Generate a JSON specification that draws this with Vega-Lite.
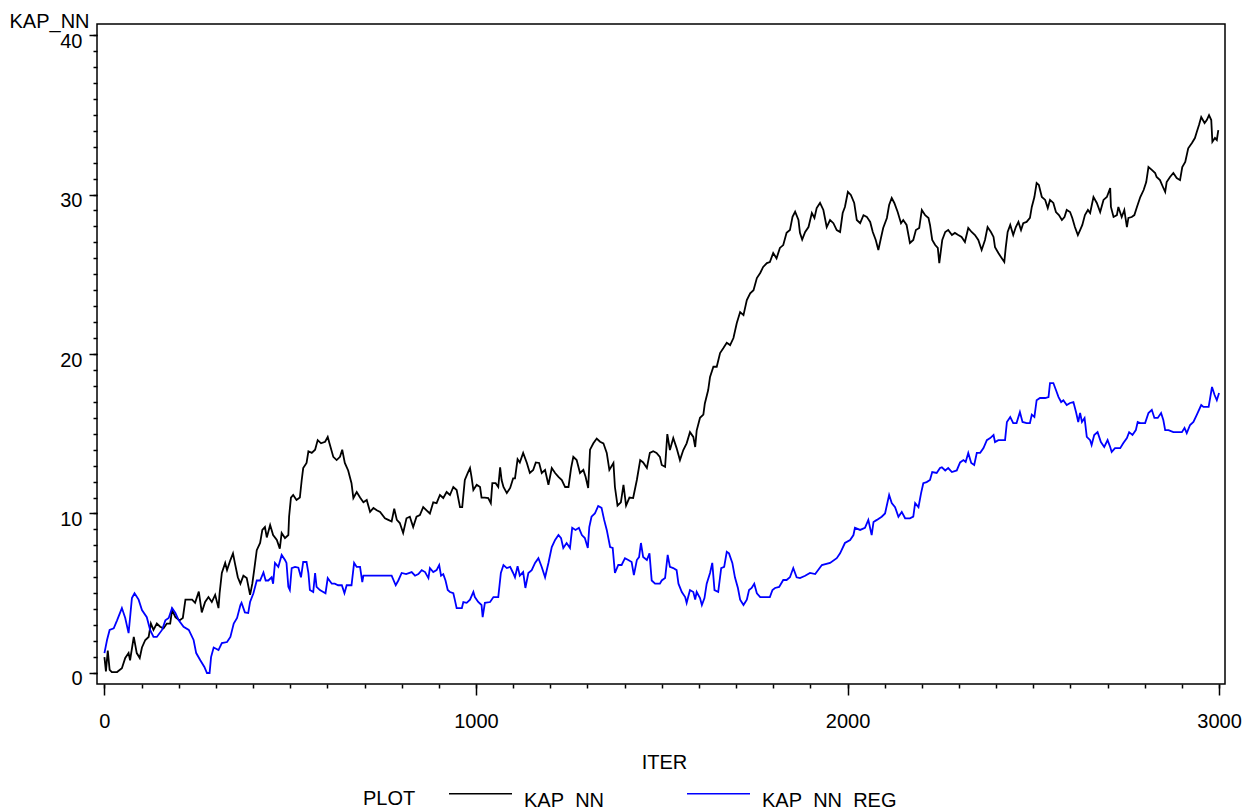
{
"$schema":"https://vega.github.io/schema/vega-lite/v6.json",
"width":1128,"height":660,
"autosize":{"type":"none"},
"padding":{"left":97,"top":24,"right":34,"bottom":126},
"background":"#ffffff",
"datasets":{
"kap_nn":[{"ITER":0,"KAP_NN":1.0},{"ITER":4,"KAP_NN":0.1},{"ITER":9,"KAP_NN":1.4},{"ITER":14,"KAP_NN":0.2},{"ITER":20,"KAP_NN":0.05},{"ITER":34,"KAP_NN":0.06},{"ITER":47,"KAP_NN":0.3},{"ITER":56,"KAP_NN":0.94},{"ITER":65,"KAP_NN":1.25},{"ITER":69,"KAP_NN":0.8},{"ITER":79,"KAP_NN":2.26},{"ITER":87,"KAP_NN":1.25},{"ITER":95,"KAP_NN":0.94},{"ITER":101,"KAP_NN":1.6},{"ITER":110,"KAP_NN":2.07},{"ITER":119,"KAP_NN":2.26},{"ITER":125,"KAP_NN":3.1},{"ITER":132,"KAP_NN":2.7},{"ITER":141,"KAP_NN":3.1},{"ITER":150,"KAP_NN":2.9},{"ITER":159,"KAP_NN":2.8},{"ITER":168,"KAP_NN":3.1},{"ITER":177,"KAP_NN":3.1},{"ITER":182,"KAP_NN":3.95},{"ITER":191,"KAP_NN":3.5},{"ITER":202,"KAP_NN":3.3},{"ITER":211,"KAP_NN":3.45},{"ITER":218,"KAP_NN":4.6},{"ITER":227,"KAP_NN":4.6},{"ITER":236,"KAP_NN":4.6},{"ITER":244,"KAP_NN":4.4},{"ITER":254,"KAP_NN":5.1},{"ITER":262,"KAP_NN":3.8},{"ITER":271,"KAP_NN":4.45},{"ITER":280,"KAP_NN":4.76},{"ITER":289,"KAP_NN":4.45},{"ITER":298,"KAP_NN":4.9},{"ITER":307,"KAP_NN":4.07},{"ITER":310,"KAP_NN":5.0},{"ITER":316,"KAP_NN":6.27},{"ITER":325,"KAP_NN":6.9},{"ITER":330,"KAP_NN":6.45},{"ITER":339,"KAP_NN":7.08},{"ITER":346,"KAP_NN":7.5},{"ITER":351,"KAP_NN":6.9},{"ITER":359,"KAP_NN":6.0},{"ITER":366,"KAP_NN":5.6},{"ITER":374,"KAP_NN":6.1},{"ITER":383,"KAP_NN":5.95},{"ITER":392,"KAP_NN":4.9},{"ITER":398,"KAP_NN":5.6},{"ITER":403,"KAP_NN":6.45},{"ITER":410,"KAP_NN":7.7},{"ITER":419,"KAP_NN":8.15},{"ITER":425,"KAP_NN":8.97},{"ITER":432,"KAP_NN":9.15},{"ITER":437,"KAP_NN":8.5},{"ITER":446,"KAP_NN":9.28},{"ITER":454,"KAP_NN":8.65},{"ITER":464,"KAP_NN":8.34},{"ITER":472,"KAP_NN":7.8},{"ITER":477,"KAP_NN":8.78},{"ITER":486,"KAP_NN":8.46},{"ITER":495,"KAP_NN":8.65},{"ITER":497,"KAP_NN":9.8},{"ITER":502,"KAP_NN":11.0},{"ITER":508,"KAP_NN":11.16},{"ITER":517,"KAP_NN":10.85},{"ITER":526,"KAP_NN":11.0},{"ITER":531,"KAP_NN":12.1},{"ITER":535,"KAP_NN":12.85},{"ITER":544,"KAP_NN":13.17},{"ITER":549,"KAP_NN":13.9},{"ITER":558,"KAP_NN":13.8},{"ITER":567,"KAP_NN":14.0},{"ITER":574,"KAP_NN":14.6},{"ITER":583,"KAP_NN":14.4},{"ITER":594,"KAP_NN":14.5},{"ITER":601,"KAP_NN":14.8},{"ITER":607,"KAP_NN":14.3},{"ITER":616,"KAP_NN":13.55},{"ITER":625,"KAP_NN":13.35},{"ITER":634,"KAP_NN":13.55},{"ITER":640,"KAP_NN":14.0},{"ITER":647,"KAP_NN":13.17},{"ITER":656,"KAP_NN":12.7},{"ITER":665,"KAP_NN":11.9},{"ITER":670,"KAP_NN":10.97},{"ITER":679,"KAP_NN":11.35},{"ITER":688,"KAP_NN":11.0},{"ITER":697,"KAP_NN":10.7},{"ITER":706,"KAP_NN":10.85},{"ITER":715,"KAP_NN":10.1},{"ITER":724,"KAP_NN":10.35},{"ITER":733,"KAP_NN":10.2},{"ITER":742,"KAP_NN":10.1},{"ITER":755,"KAP_NN":9.7},{"ITER":764,"KAP_NN":9.6},{"ITER":773,"KAP_NN":9.5},{"ITER":780,"KAP_NN":10.3},{"ITER":787,"KAP_NN":9.6},{"ITER":795,"KAP_NN":9.4},{"ITER":804,"KAP_NN":8.78},{"ITER":813,"KAP_NN":9.7},{"ITER":822,"KAP_NN":9.8},{"ITER":831,"KAP_NN":9.15},{"ITER":840,"KAP_NN":9.8},{"ITER":849,"KAP_NN":9.9},{"ITER":858,"KAP_NN":10.4},{"ITER":867,"KAP_NN":10.2},{"ITER":876,"KAP_NN":10.0},{"ITER":885,"KAP_NN":10.7},{"ITER":894,"KAP_NN":10.65},{"ITER":903,"KAP_NN":11.16},{"ITER":912,"KAP_NN":10.97},{"ITER":921,"KAP_NN":11.35},{"ITER":930,"KAP_NN":11.16},{"ITER":939,"KAP_NN":11.66},{"ITER":948,"KAP_NN":11.47},{"ITER":957,"KAP_NN":10.4},{"ITER":963,"KAP_NN":10.4},{"ITER":970,"KAP_NN":12.1},{"ITER":978,"KAP_NN":12.54},{"ITER":984,"KAP_NN":12.85},{"ITER":988,"KAP_NN":12.3},{"ITER":993,"KAP_NN":11.47},{"ITER":1002,"KAP_NN":11.8},{"ITER":1011,"KAP_NN":11.66},{"ITER":1015,"KAP_NN":11.0},{"ITER":1024,"KAP_NN":11.0},{"ITER":1033,"KAP_NN":10.97},{"ITER":1040,"KAP_NN":10.65},{"ITER":1044,"KAP_NN":11.9},{"ITER":1053,"KAP_NN":11.9},{"ITER":1060,"KAP_NN":11.66},{"ITER":1065,"KAP_NN":12.9},{"ITER":1069,"KAP_NN":12.1},{"ITER":1074,"KAP_NN":11.66},{"ITER":1083,"KAP_NN":11.28},{"ITER":1092,"KAP_NN":11.6},{"ITER":1100,"KAP_NN":12.2},{"ITER":1105,"KAP_NN":12.2},{"ITER":1112,"KAP_NN":13.4},{"ITER":1118,"KAP_NN":13.2},{"ITER":1127,"KAP_NN":13.8},{"ITER":1137,"KAP_NN":13.17},{"ITER":1145,"KAP_NN":12.54},{"ITER":1154,"KAP_NN":12.73},{"ITER":1161,"KAP_NN":13.2},{"ITER":1170,"KAP_NN":13.17},{"ITER":1177,"KAP_NN":12.54},{"ITER":1186,"KAP_NN":12.73},{"ITER":1195,"KAP_NN":11.8},{"ITER":1204,"KAP_NN":12.85},{"ITER":1213,"KAP_NN":12.54},{"ITER":1222,"KAP_NN":12.3},{"ITER":1231,"KAP_NN":12.1},{"ITER":1240,"KAP_NN":11.66},{"ITER":1249,"KAP_NN":11.66},{"ITER":1256,"KAP_NN":12.85},{"ITER":1262,"KAP_NN":13.55},{"ITER":1271,"KAP_NN":13.35},{"ITER":1280,"KAP_NN":12.54},{"ITER":1289,"KAP_NN":12.73},{"ITER":1295,"KAP_NN":12.3},{"ITER":1302,"KAP_NN":11.6},{"ITER":1307,"KAP_NN":14.0},{"ITER":1316,"KAP_NN":14.4},{"ITER":1325,"KAP_NN":14.7},{"ITER":1334,"KAP_NN":14.5},{"ITER":1343,"KAP_NN":14.4},{"ITER":1352,"KAP_NN":13.8},{"ITER":1359,"KAP_NN":12.73},{"ITER":1370,"KAP_NN":13.17},{"ITER":1374,"KAP_NN":11.66},{"ITER":1381,"KAP_NN":10.5},{"ITER":1390,"KAP_NN":10.7},{"ITER":1397,"KAP_NN":11.8},{"ITER":1404,"KAP_NN":10.5},{"ITER":1413,"KAP_NN":11.0},{"ITER":1423,"KAP_NN":10.97},{"ITER":1433,"KAP_NN":12.1},{"ITER":1442,"KAP_NN":13.35},{"ITER":1450,"KAP_NN":13.2},{"ITER":1460,"KAP_NN":12.85},{"ITER":1468,"KAP_NN":13.8},{"ITER":1477,"KAP_NN":13.9},{"ITER":1486,"KAP_NN":13.8},{"ITER":1495,"KAP_NN":13.55},{"ITER":1500,"KAP_NN":13.04},{"ITER":1509,"KAP_NN":12.93},{"ITER":1515,"KAP_NN":14.98},{"ITER":1522,"KAP_NN":13.98},{"ITER":1531,"KAP_NN":14.73},{"ITER":1540,"KAP_NN":14.1},{"ITER":1549,"KAP_NN":13.35},{"ITER":1558,"KAP_NN":13.98},{"ITER":1567,"KAP_NN":14.4},{"ITER":1576,"KAP_NN":15.1},{"ITER":1585,"KAP_NN":14.8},{"ITER":1590,"KAP_NN":14.17},{"ITER":1594,"KAP_NN":15.2},{"ITER":1603,"KAP_NN":16.0},{"ITER":1612,"KAP_NN":16.2},{"ITER":1616,"KAP_NN":16.9},{"ITER":1625,"KAP_NN":17.74},{"ITER":1630,"KAP_NN":18.56},{"ITER":1639,"KAP_NN":19.2},{"ITER":1648,"KAP_NN":19.2},{"ITER":1657,"KAP_NN":20.06},{"ITER":1666,"KAP_NN":20.37},{"ITER":1675,"KAP_NN":20.7},{"ITER":1684,"KAP_NN":20.56},{"ITER":1693,"KAP_NN":21.0},{"ITER":1702,"KAP_NN":21.94},{"ITER":1711,"KAP_NN":22.63},{"ITER":1720,"KAP_NN":22.44},{"ITER":1729,"KAP_NN":23.38},{"ITER":1738,"KAP_NN":23.8},{"ITER":1747,"KAP_NN":24.0},{"ITER":1756,"KAP_NN":24.76},{"ITER":1765,"KAP_NN":25.08},{"ITER":1773,"KAP_NN":25.46},{"ITER":1783,"KAP_NN":25.7},{"ITER":1791,"KAP_NN":25.77},{"ITER":1800,"KAP_NN":26.33},{"ITER":1809,"KAP_NN":26.0},{"ITER":1818,"KAP_NN":26.65},{"ITER":1827,"KAP_NN":26.83},{"ITER":1836,"KAP_NN":27.6},{"ITER":1845,"KAP_NN":27.77},{"ITER":1852,"KAP_NN":28.6},{"ITER":1859,"KAP_NN":28.92},{"ITER":1868,"KAP_NN":28.4},{"ITER":1872,"KAP_NN":27.6},{"ITER":1878,"KAP_NN":27.17},{"ITER":1886,"KAP_NN":27.65},{"ITER":1895,"KAP_NN":27.96},{"ITER":1904,"KAP_NN":28.84},{"ITER":1911,"KAP_NN":28.53},{"ITER":1917,"KAP_NN":29.15},{"ITER":1926,"KAP_NN":29.47},{"ITER":1935,"KAP_NN":29.03},{"ITER":1944,"KAP_NN":27.96},{"ITER":1953,"KAP_NN":28.4},{"ITER":1962,"KAP_NN":28.2},{"ITER":1971,"KAP_NN":27.77},{"ITER":1980,"KAP_NN":27.65},{"ITER":1987,"KAP_NN":28.84},{"ITER":1993,"KAP_NN":29.22},{"ITER":2001,"KAP_NN":30.16},{"ITER":2009,"KAP_NN":29.97},{"ITER":2018,"KAP_NN":29.47},{"ITER":2025,"KAP_NN":28.4},{"ITER":2034,"KAP_NN":28.2},{"ITER":2043,"KAP_NN":28.7},{"ITER":2052,"KAP_NN":28.6},{"ITER":2061,"KAP_NN":28.28},{"ITER":2068,"KAP_NN":27.65},{"ITER":2076,"KAP_NN":27.15},{"ITER":2083,"KAP_NN":26.52},{"ITER":2090,"KAP_NN":27.27},{"ITER":2096,"KAP_NN":27.9},{"ITER":2106,"KAP_NN":28.53},{"ITER":2112,"KAP_NN":29.34},{"ITER":2119,"KAP_NN":29.78},{"ITER":2126,"KAP_NN":29.47},{"ITER":2135,"KAP_NN":28.9},{"ITER":2144,"KAP_NN":28.2},{"ITER":2150,"KAP_NN":28.4},{"ITER":2159,"KAP_NN":28.09},{"ITER":2168,"KAP_NN":26.96},{"ITER":2177,"KAP_NN":27.15},{"ITER":2184,"KAP_NN":27.77},{"ITER":2193,"KAP_NN":27.9},{"ITER":2200,"KAP_NN":29.03},{"ITER":2209,"KAP_NN":28.7},{"ITER":2218,"KAP_NN":28.53},{"ITER":2222,"KAP_NN":28.09},{"ITER":2228,"KAP_NN":27.15},{"ITER":2236,"KAP_NN":26.83},{"ITER":2243,"KAP_NN":26.65},{"ITER":2247,"KAP_NN":25.7},{"ITER":2255,"KAP_NN":27.15},{"ITER":2263,"KAP_NN":27.65},{"ITER":2271,"KAP_NN":27.77},{"ITER":2281,"KAP_NN":27.46},{"ITER":2289,"KAP_NN":27.59},{"ITER":2298,"KAP_NN":27.46},{"ITER":2307,"KAP_NN":27.34},{"ITER":2316,"KAP_NN":27.02},{"ITER":2325,"KAP_NN":27.9},{"ITER":2334,"KAP_NN":27.65},{"ITER":2343,"KAP_NN":27.46},{"ITER":2352,"KAP_NN":27.15},{"ITER":2361,"KAP_NN":26.52},{"ITER":2370,"KAP_NN":27.15},{"ITER":2377,"KAP_NN":27.96},{"ITER":2386,"KAP_NN":27.65},{"ITER":2393,"KAP_NN":27.34},{"ITER":2397,"KAP_NN":26.7},{"ITER":2406,"KAP_NN":26.33},{"ITER":2413,"KAP_NN":26.08},{"ITER":2422,"KAP_NN":25.77},{"ITER":2426,"KAP_NN":26.7},{"ITER":2431,"KAP_NN":27.65},{"ITER":2438,"KAP_NN":28.09},{"ITER":2446,"KAP_NN":27.46},{"ITER":2453,"KAP_NN":27.96},{"ITER":2460,"KAP_NN":28.28},{"ITER":2467,"KAP_NN":27.77},{"ITER":2473,"KAP_NN":28.2},{"ITER":2482,"KAP_NN":28.28},{"ITER":2491,"KAP_NN":28.53},{"ITER":2496,"KAP_NN":29.22},{"ITER":2503,"KAP_NN":29.84},{"ITER":2509,"KAP_NN":30.72},{"ITER":2515,"KAP_NN":30.6},{"ITER":2523,"KAP_NN":29.84},{"ITER":2532,"KAP_NN":29.66},{"ITER":2539,"KAP_NN":29.15},{"ITER":2545,"KAP_NN":29.66},{"ITER":2554,"KAP_NN":29.47},{"ITER":2561,"KAP_NN":28.9},{"ITER":2569,"KAP_NN":28.71},{"ITER":2577,"KAP_NN":28.4},{"ITER":2584,"KAP_NN":28.59},{"ITER":2590,"KAP_NN":29.03},{"ITER":2599,"KAP_NN":28.9},{"ITER":2605,"KAP_NN":28.53},{"ITER":2612,"KAP_NN":27.96},{"ITER":2620,"KAP_NN":27.46},{"ITER":2626,"KAP_NN":27.77},{"ITER":2632,"KAP_NN":28.09},{"ITER":2639,"KAP_NN":28.71},{"ITER":2647,"KAP_NN":29.03},{"ITER":2653,"KAP_NN":28.84},{"ITER":2662,"KAP_NN":29.84},{"ITER":2671,"KAP_NN":29.47},{"ITER":2680,"KAP_NN":28.9},{"ITER":2689,"KAP_NN":29.66},{"ITER":2698,"KAP_NN":29.84},{"ITER":2707,"KAP_NN":30.4},{"ITER":2709,"KAP_NN":29.22},{"ITER":2716,"KAP_NN":28.59},{"ITER":2725,"KAP_NN":28.71},{"ITER":2729,"KAP_NN":29.22},{"ITER":2738,"KAP_NN":28.59},{"ITER":2745,"KAP_NN":29.03},{"ITER":2752,"KAP_NN":27.96},{"ITER":2756,"KAP_NN":28.53},{"ITER":2765,"KAP_NN":28.59},{"ITER":2772,"KAP_NN":28.71},{"ITER":2779,"KAP_NN":29.22},{"ITER":2788,"KAP_NN":29.84},{"ITER":2797,"KAP_NN":30.28},{"ITER":2804,"KAP_NN":30.78},{"ITER":2810,"KAP_NN":31.72},{"ITER":2819,"KAP_NN":31.54},{"ITER":2828,"KAP_NN":31.35},{"ITER":2832,"KAP_NN":31.1},{"ITER":2841,"KAP_NN":30.9},{"ITER":2849,"KAP_NN":30.47},{"ITER":2855,"KAP_NN":30.16},{"ITER":2859,"KAP_NN":30.78},{"ITER":2868,"KAP_NN":31.1},{"ITER":2877,"KAP_NN":31.35},{"ITER":2886,"KAP_NN":31.03},{"ITER":2895,"KAP_NN":30.9},{"ITER":2901,"KAP_NN":31.72},{"ITER":2909,"KAP_NN":32.04},{"ITER":2917,"KAP_NN":32.9},{"ITER":2927,"KAP_NN":33.23},{"ITER":2935,"KAP_NN":33.54},{"ITER":2940,"KAP_NN":33.92},{"ITER":2946,"KAP_NN":34.36},{"ITER":2952,"KAP_NN":34.86},{"ITER":2961,"KAP_NN":34.48},{"ITER":2967,"KAP_NN":34.67},{"ITER":2973,"KAP_NN":34.98},{"ITER":2979,"KAP_NN":34.67},{"ITER":2982,"KAP_NN":33.3},{"ITER":2989,"KAP_NN":33.54},{"ITER":2994,"KAP_NN":33.42},{"ITER":2998,"KAP_NN":34.04}],
"kap_nn_reg":[{"ITER":0,"KAP_NN_REG":1.25},{"ITER":7,"KAP_NN_REG":2.07},{"ITER":14,"KAP_NN_REG":2.7},{"ITER":25,"KAP_NN_REG":2.8},{"ITER":34,"KAP_NN_REG":3.3},{"ITER":47,"KAP_NN_REG":4.07},{"ITER":56,"KAP_NN_REG":3.45},{"ITER":65,"KAP_NN_REG":2.5},{"ITER":74,"KAP_NN_REG":4.7},{"ITER":81,"KAP_NN_REG":5.0},{"ITER":92,"KAP_NN_REG":4.6},{"ITER":101,"KAP_NN_REG":3.95},{"ITER":114,"KAP_NN_REG":3.5},{"ITER":123,"KAP_NN_REG":2.7},{"ITER":132,"KAP_NN_REG":2.26},{"ITER":141,"KAP_NN_REG":2.26},{"ITER":155,"KAP_NN_REG":2.7},{"ITER":164,"KAP_NN_REG":3.3},{"ITER":173,"KAP_NN_REG":3.45},{"ITER":182,"KAP_NN_REG":4.07},{"ITER":191,"KAP_NN_REG":3.76},{"ITER":200,"KAP_NN_REG":3.3},{"ITER":213,"KAP_NN_REG":2.9},{"ITER":227,"KAP_NN_REG":2.7},{"ITER":240,"KAP_NN_REG":2.07},{"ITER":247,"KAP_NN_REG":1.25},{"ITER":258,"KAP_NN_REG":0.8},{"ITER":269,"KAP_NN_REG":0.38},{"ITER":276,"KAP_NN_REG":0},{"ITER":283,"KAP_NN_REG":0},{"ITER":287,"KAP_NN_REG":1.0},{"ITER":294,"KAP_NN_REG":1.6},{"ITER":307,"KAP_NN_REG":1.44},{"ITER":316,"KAP_NN_REG":1.88},{"ITER":330,"KAP_NN_REG":1.94},{"ITER":339,"KAP_NN_REG":2.26},{"ITER":348,"KAP_NN_REG":3.1},{"ITER":357,"KAP_NN_REG":3.45},{"ITER":366,"KAP_NN_REG":4.26},{"ITER":369,"KAP_NN_REG":4.4},{"ITER":378,"KAP_NN_REG":3.8},{"ITER":387,"KAP_NN_REG":3.76},{"ITER":392,"KAP_NN_REG":4.45},{"ITER":401,"KAP_NN_REG":5.0},{"ITER":410,"KAP_NN_REG":5.8},{"ITER":419,"KAP_NN_REG":5.8},{"ITER":428,"KAP_NN_REG":6.3},{"ITER":434,"KAP_NN_REG":5.8},{"ITER":441,"KAP_NN_REG":5.8},{"ITER":450,"KAP_NN_REG":6.0},{"ITER":454,"KAP_NN_REG":5.6},{"ITER":459,"KAP_NN_REG":6.9},{"ITER":468,"KAP_NN_REG":6.65},{"ITER":477,"KAP_NN_REG":7.4},{"ITER":486,"KAP_NN_REG":7.08},{"ITER":490,"KAP_NN_REG":6.9},{"ITER":495,"KAP_NN_REG":5.4},{"ITER":499,"KAP_NN_REG":5.2},{"ITER":504,"KAP_NN_REG":6.58},{"ITER":513,"KAP_NN_REG":6.65},{"ITER":522,"KAP_NN_REG":6.6},{"ITER":529,"KAP_NN_REG":6.0},{"ITER":535,"KAP_NN_REG":6.96},{"ITER":544,"KAP_NN_REG":6.96},{"ITER":549,"KAP_NN_REG":6.27},{"ITER":553,"KAP_NN_REG":5.2},{"ITER":562,"KAP_NN_REG":5.08},{"ITER":567,"KAP_NN_REG":6.27},{"ITER":571,"KAP_NN_REG":5.4},{"ITER":580,"KAP_NN_REG":5.2},{"ITER":589,"KAP_NN_REG":5.08},{"ITER":595,"KAP_NN_REG":5.0},{"ITER":601,"KAP_NN_REG":5.95},{"ITER":612,"KAP_NN_REG":5.6},{"ITER":620,"KAP_NN_REG":5.6},{"ITER":629,"KAP_NN_REG":5.5},{"ITER":639,"KAP_NN_REG":5.5},{"ITER":646,"KAP_NN_REG":5.0},{"ITER":652,"KAP_NN_REG":5.5},{"ITER":665,"KAP_NN_REG":5.5},{"ITER":672,"KAP_NN_REG":6.9},{"ITER":679,"KAP_NN_REG":6.65},{"ITER":688,"KAP_NN_REG":6.65},{"ITER":694,"KAP_NN_REG":5.7},{"ITER":697,"KAP_NN_REG":6.1},{"ITER":710,"KAP_NN_REG":6.1},{"ITER":742,"KAP_NN_REG":6.1},{"ITER":773,"KAP_NN_REG":6.1},{"ITER":784,"KAP_NN_REG":5.5},{"ITER":791,"KAP_NN_REG":5.8},{"ITER":800,"KAP_NN_REG":6.27},{"ITER":812,"KAP_NN_REG":6.2},{"ITER":827,"KAP_NN_REG":6.33},{"ITER":836,"KAP_NN_REG":6.1},{"ITER":845,"KAP_NN_REG":6.2},{"ITER":854,"KAP_NN_REG":6.45},{"ITER":863,"KAP_NN_REG":6.33},{"ITER":872,"KAP_NN_REG":5.95},{"ITER":876,"KAP_NN_REG":6.58},{"ITER":885,"KAP_NN_REG":6.33},{"ITER":894,"KAP_NN_REG":6.45},{"ITER":901,"KAP_NN_REG":6.77},{"ITER":906,"KAP_NN_REG":6.1},{"ITER":912,"KAP_NN_REG":6.2},{"ITER":918,"KAP_NN_REG":5.8},{"ITER":924,"KAP_NN_REG":5.2},{"ITER":930,"KAP_NN_REG":5.08},{"ITER":939,"KAP_NN_REG":5.0},{"ITER":943,"KAP_NN_REG":4.6},{"ITER":948,"KAP_NN_REG":4.07},{"ITER":962,"KAP_NN_REG":4.07},{"ITER":966,"KAP_NN_REG":4.45},{"ITER":975,"KAP_NN_REG":4.4},{"ITER":984,"KAP_NN_REG":4.6},{"ITER":993,"KAP_NN_REG":5.08},{"ITER":997,"KAP_NN_REG":4.76},{"ITER":1006,"KAP_NN_REG":4.45},{"ITER":1015,"KAP_NN_REG":4.26},{"ITER":1018,"KAP_NN_REG":3.5},{"ITER":1024,"KAP_NN_REG":4.4},{"ITER":1038,"KAP_NN_REG":4.45},{"ITER":1047,"KAP_NN_REG":4.76},{"ITER":1060,"KAP_NN_REG":4.76},{"ITER":1067,"KAP_NN_REG":6.27},{"ITER":1074,"KAP_NN_REG":6.77},{"ITER":1083,"KAP_NN_REG":6.58},{"ITER":1092,"KAP_NN_REG":6.65},{"ITER":1100,"KAP_NN_REG":6.27},{"ITER":1105,"KAP_NN_REG":6.0},{"ITER":1112,"KAP_NN_REG":6.7},{"ITER":1118,"KAP_NN_REG":6.1},{"ITER":1127,"KAP_NN_REG":6.33},{"ITER":1133,"KAP_NN_REG":5.33},{"ITER":1141,"KAP_NN_REG":6.27},{"ITER":1150,"KAP_NN_REG":6.45},{"ITER":1159,"KAP_NN_REG":6.9},{"ITER":1168,"KAP_NN_REG":7.2},{"ITER":1177,"KAP_NN_REG":6.65},{"ITER":1186,"KAP_NN_REG":6.0},{"ITER":1195,"KAP_NN_REG":6.9},{"ITER":1204,"KAP_NN_REG":7.9},{"ITER":1213,"KAP_NN_REG":8.34},{"ITER":1222,"KAP_NN_REG":8.65},{"ITER":1229,"KAP_NN_REG":8.46},{"ITER":1235,"KAP_NN_REG":7.84},{"ITER":1244,"KAP_NN_REG":8.15},{"ITER":1253,"KAP_NN_REG":7.84},{"ITER":1259,"KAP_NN_REG":9.1},{"ITER":1268,"KAP_NN_REG":8.97},{"ITER":1277,"KAP_NN_REG":9.1},{"ITER":1285,"KAP_NN_REG":8.65},{"ITER":1293,"KAP_NN_REG":8.46},{"ITER":1301,"KAP_NN_REG":7.84},{"ITER":1305,"KAP_NN_REG":9.15},{"ITER":1311,"KAP_NN_REG":9.8},{"ITER":1320,"KAP_NN_REG":10.0},{"ITER":1329,"KAP_NN_REG":10.47},{"ITER":1338,"KAP_NN_REG":10.35},{"ITER":1345,"KAP_NN_REG":9.6},{"ITER":1352,"KAP_NN_REG":8.97},{"ITER":1361,"KAP_NN_REG":7.9},{"ITER":1368,"KAP_NN_REG":7.84},{"ITER":1374,"KAP_NN_REG":6.27},{"ITER":1383,"KAP_NN_REG":6.77},{"ITER":1392,"KAP_NN_REG":6.77},{"ITER":1401,"KAP_NN_REG":7.2},{"ITER":1410,"KAP_NN_REG":7.08},{"ITER":1419,"KAP_NN_REG":6.96},{"ITER":1425,"KAP_NN_REG":6.14},{"ITER":1433,"KAP_NN_REG":7.08},{"ITER":1439,"KAP_NN_REG":7.27},{"ITER":1444,"KAP_NN_REG":8.15},{"ITER":1450,"KAP_NN_REG":7.27},{"ITER":1460,"KAP_NN_REG":7.08},{"ITER":1467,"KAP_NN_REG":7.5},{"ITER":1473,"KAP_NN_REG":5.8},{"ITER":1482,"KAP_NN_REG":5.6},{"ITER":1495,"KAP_NN_REG":5.6},{"ITER":1500,"KAP_NN_REG":5.8},{"ITER":1509,"KAP_NN_REG":5.95},{"ITER":1516,"KAP_NN_REG":7.4},{"ITER":1522,"KAP_NN_REG":6.65},{"ITER":1531,"KAP_NN_REG":6.58},{"ITER":1540,"KAP_NN_REG":6.45},{"ITER":1545,"KAP_NN_REG":5.6},{"ITER":1554,"KAP_NN_REG":5.08},{"ITER":1563,"KAP_NN_REG":4.76},{"ITER":1567,"KAP_NN_REG":4.4},{"ITER":1576,"KAP_NN_REG":5.2},{"ITER":1585,"KAP_NN_REG":5.08},{"ITER":1590,"KAP_NN_REG":4.6},{"ITER":1594,"KAP_NN_REG":5.08},{"ITER":1603,"KAP_NN_REG":4.7},{"ITER":1608,"KAP_NN_REG":4.26},{"ITER":1615,"KAP_NN_REG":4.7},{"ITER":1621,"KAP_NN_REG":5.6},{"ITER":1630,"KAP_NN_REG":6.27},{"ITER":1636,"KAP_NN_REG":6.9},{"ITER":1642,"KAP_NN_REG":5.2},{"ITER":1652,"KAP_NN_REG":5.08},{"ITER":1660,"KAP_NN_REG":6.58},{"ITER":1668,"KAP_NN_REG":6.65},{"ITER":1675,"KAP_NN_REG":7.6},{"ITER":1681,"KAP_NN_REG":7.5},{"ITER":1690,"KAP_NN_REG":6.9},{"ITER":1697,"KAP_NN_REG":6.0},{"ITER":1705,"KAP_NN_REG":5.33},{"ITER":1711,"KAP_NN_REG":4.6},{"ITER":1720,"KAP_NN_REG":4.26},{"ITER":1729,"KAP_NN_REG":4.6},{"ITER":1735,"KAP_NN_REG":5.2},{"ITER":1742,"KAP_NN_REG":5.33},{"ITER":1749,"KAP_NN_REG":5.6},{"ITER":1756,"KAP_NN_REG":5.0},{"ITER":1765,"KAP_NN_REG":4.76},{"ITER":1791,"KAP_NN_REG":4.76},{"ITER":1798,"KAP_NN_REG":5.2},{"ITER":1805,"KAP_NN_REG":5.33},{"ITER":1816,"KAP_NN_REG":5.4},{"ITER":1827,"KAP_NN_REG":5.83},{"ITER":1836,"KAP_NN_REG":5.83},{"ITER":1845,"KAP_NN_REG":6.0},{"ITER":1854,"KAP_NN_REG":6.58},{"ITER":1863,"KAP_NN_REG":6.0},{"ITER":1872,"KAP_NN_REG":5.95},{"ITER":1886,"KAP_NN_REG":6.1},{"ITER":1899,"KAP_NN_REG":6.27},{"ITER":1913,"KAP_NN_REG":6.2},{"ITER":1931,"KAP_NN_REG":6.77},{"ITER":1953,"KAP_NN_REG":6.9},{"ITER":1971,"KAP_NN_REG":7.2},{"ITER":1980,"KAP_NN_REG":7.5},{"ITER":1993,"KAP_NN_REG":8.15},{"ITER":2007,"KAP_NN_REG":8.34},{"ITER":2016,"KAP_NN_REG":8.65},{"ITER":2020,"KAP_NN_REG":9.1},{"ITER":2034,"KAP_NN_REG":8.97},{"ITER":2047,"KAP_NN_REG":9.1},{"ITER":2056,"KAP_NN_REG":9.6},{"ITER":2065,"KAP_NN_REG":8.65},{"ITER":2070,"KAP_NN_REG":9.47},{"ITER":2079,"KAP_NN_REG":9.6},{"ITER":2092,"KAP_NN_REG":9.8},{"ITER":2101,"KAP_NN_REG":10.0},{"ITER":2112,"KAP_NN_REG":11.16},{"ITER":2119,"KAP_NN_REG":10.65},{"ITER":2128,"KAP_NN_REG":10.4},{"ITER":2137,"KAP_NN_REG":9.8},{"ITER":2146,"KAP_NN_REG":10.1},{"ITER":2155,"KAP_NN_REG":9.7},{"ITER":2168,"KAP_NN_REG":9.7},{"ITER":2177,"KAP_NN_REG":9.8},{"ITER":2182,"KAP_NN_REG":10.65},{"ITER":2191,"KAP_NN_REG":10.4},{"ITER":2198,"KAP_NN_REG":11.28},{"ITER":2204,"KAP_NN_REG":11.9},{"ITER":2213,"KAP_NN_REG":11.97},{"ITER":2222,"KAP_NN_REG":12.1},{"ITER":2228,"KAP_NN_REG":12.6},{"ITER":2240,"KAP_NN_REG":12.54},{"ITER":2249,"KAP_NN_REG":12.85},{"ITER":2254,"KAP_NN_REG":12.9},{"ITER":2263,"KAP_NN_REG":12.7},{"ITER":2271,"KAP_NN_REG":12.85},{"ITER":2281,"KAP_NN_REG":12.6},{"ITER":2294,"KAP_NN_REG":12.7},{"ITER":2303,"KAP_NN_REG":13.2},{"ITER":2312,"KAP_NN_REG":13.35},{"ITER":2318,"KAP_NN_REG":13.23},{"ITER":2325,"KAP_NN_REG":13.8},{"ITER":2333,"KAP_NN_REG":13.17},{"ITER":2341,"KAP_NN_REG":13.04},{"ITER":2348,"KAP_NN_REG":13.8},{"ITER":2357,"KAP_NN_REG":13.8},{"ITER":2366,"KAP_NN_REG":14.1},{"ITER":2375,"KAP_NN_REG":14.6},{"ITER":2384,"KAP_NN_REG":14.73},{"ITER":2393,"KAP_NN_REG":14.92},{"ITER":2397,"KAP_NN_REG":14.48},{"ITER":2406,"KAP_NN_REG":14.6},{"ITER":2424,"KAP_NN_REG":14.6},{"ITER":2429,"KAP_NN_REG":15.74},{"ITER":2438,"KAP_NN_REG":16.05},{"ITER":2446,"KAP_NN_REG":15.67},{"ITER":2455,"KAP_NN_REG":15.67},{"ITER":2464,"KAP_NN_REG":16.36},{"ITER":2471,"KAP_NN_REG":15.74},{"ITER":2482,"KAP_NN_REG":15.67},{"ITER":2491,"KAP_NN_REG":15.67},{"ITER":2496,"KAP_NN_REG":16.2},{"ITER":2503,"KAP_NN_REG":16.05},{"ITER":2509,"KAP_NN_REG":17.1},{"ITER":2518,"KAP_NN_REG":17.24},{"ITER":2532,"KAP_NN_REG":17.24},{"ITER":2541,"KAP_NN_REG":17.3},{"ITER":2545,"KAP_NN_REG":18.18},{"ITER":2554,"KAP_NN_REG":18.18},{"ITER":2561,"KAP_NN_REG":17.74},{"ITER":2568,"KAP_NN_REG":17.3},{"ITER":2575,"KAP_NN_REG":16.99},{"ITER":2581,"KAP_NN_REG":17.1},{"ITER":2590,"KAP_NN_REG":16.8},{"ITER":2599,"KAP_NN_REG":16.93},{"ITER":2608,"KAP_NN_REG":16.99},{"ITER":2615,"KAP_NN_REG":16.36},{"ITER":2621,"KAP_NN_REG":15.74},{"ITER":2626,"KAP_NN_REG":16.3},{"ITER":2631,"KAP_NN_REG":15.74},{"ITER":2638,"KAP_NN_REG":15.99},{"ITER":2644,"KAP_NN_REG":14.8},{"ITER":2653,"KAP_NN_REG":14.6},{"ITER":2657,"KAP_NN_REG":14.3},{"ITER":2664,"KAP_NN_REG":14.92},{"ITER":2673,"KAP_NN_REG":15.1},{"ITER":2682,"KAP_NN_REG":14.48},{"ITER":2691,"KAP_NN_REG":14.17},{"ITER":2700,"KAP_NN_REG":14.6},{"ITER":2707,"KAP_NN_REG":14.17},{"ITER":2711,"KAP_NN_REG":13.86},{"ITER":2720,"KAP_NN_REG":14.1},{"ITER":2734,"KAP_NN_REG":14.1},{"ITER":2742,"KAP_NN_REG":14.4},{"ITER":2752,"KAP_NN_REG":14.73},{"ITER":2758,"KAP_NN_REG":15.1},{"ITER":2767,"KAP_NN_REG":14.92},{"ITER":2776,"KAP_NN_REG":15.23},{"ITER":2781,"KAP_NN_REG":15.74},{"ITER":2788,"KAP_NN_REG":15.67},{"ITER":2801,"KAP_NN_REG":15.67},{"ITER":2810,"KAP_NN_REG":16.3},{"ITER":2819,"KAP_NN_REG":16.5},{"ITER":2826,"KAP_NN_REG":15.99},{"ITER":2835,"KAP_NN_REG":15.99},{"ITER":2844,"KAP_NN_REG":16.3},{"ITER":2850,"KAP_NN_REG":15.86},{"ITER":2855,"KAP_NN_REG":15.23},{"ITER":2864,"KAP_NN_REG":15.23},{"ITER":2877,"KAP_NN_REG":15.1},{"ITER":2900,"KAP_NN_REG":15.1},{"ITER":2907,"KAP_NN_REG":15.36},{"ITER":2913,"KAP_NN_REG":15.04},{"ITER":2922,"KAP_NN_REG":15.55},{"ITER":2931,"KAP_NN_REG":15.74},{"ITER":2940,"KAP_NN_REG":16.18},{"ITER":2952,"KAP_NN_REG":16.8},{"ITER":2958,"KAP_NN_REG":16.68},{"ITER":2972,"KAP_NN_REG":16.68},{"ITER":2981,"KAP_NN_REG":17.93},{"ITER":2988,"KAP_NN_REG":17.43},{"ITER":2994,"KAP_NN_REG":17.1},{"ITER":3000,"KAP_NN_REG":17.55}]
},
"layer":[
{"mark":{"type":"rule","color":"#000000","strokeWidth":1.5},
 "encoding":{"y":{"datum":0,"type":"quantitative","scale":{"domain":[-0.69,40.69],"nice":false,"zero":false},"axis":null}}},
{"data":{"name":"kap_nn"},
 "mark":{"type":"line","strokeWidth":1.8},
 "encoding":{
  "x":{"field":"ITER","type":"quantitative","scale":{"domain":[-20,3016],"nice":false,"zero":false},
   "axis":{"orient":"bottom","values":[0,1000,2000,3000],"format":"d","tickSize":11,"labelPadding":32,"labelBaseline":"alphabetic","labelFlush":false,"labelOverlap":false,"title":"ITER","titleX":567,"titleY":84,"titleAlign":"center","titleBaseline":"alphabetic","titleAnchor":null}},
  "y":{"field":"KAP_NN","type":"quantitative","scale":{"domain":[-0.69,40.69],"nice":false,"zero":false},
   "axis":{"orient":"left","values":[0,10,20,30,40],"format":"d","tickSize":8,"labelPadding":7,"labelBaseline":"alphabetic","labelOffset":12,"labelFlush":false,"labelOverlap":false,"title":"KAP_NN","titleAngle":0,"titleX":-88,"titleY":3,"titleAlign":"left","titleBaseline":"alphabetic"}},
  "color":{"datum":"KAP_NN","type":"nominal","scale":{"domain":["KAP_NN","KAP_NN_REG"],"range":["#000000","#0000ff"]},"legend":{"title":"PLOT"}}
 }},
{"data":{"name":"kap_nn_reg"},
 "mark":{"type":"line","strokeWidth":1.8},
 "encoding":{
  "x":{"field":"ITER","type":"quantitative","scale":{"domain":[-20,3016],"nice":false,"zero":false},
   "axis":{"orient":"bottom","values":[0,100,200,300,400,500,600,700,800,900,1000,1100,1200,1300,1400,1500,1600,1700,1800,1900,2000,2100,2200,2300,2400,2500,2600,2700,2800,2900,3000],"tickSize":4,"labels":false,"title":null}},
  "y":{"field":"KAP_NN_REG","type":"quantitative","scale":{"domain":[-0.69,40.69],"nice":false,"zero":false},
   "axis":{"orient":"left","values":[0,1,2,3,4,5,6,7,8,9,10,11,12,13,14,15,16,17,18,19,20,21,22,23,24,25,26,27,28,29,30,31,32,33,34,35,36,37,38,39,40],"tickSize":4,"labels":false,"title":null}},
  "color":{"datum":"KAP_NN_REG","type":"nominal"}
 }}
],
"resolve":{"axis":{"x":"independent","y":"independent"}},
"config":{
 "font":"Liberation Sans",
 "view":{"stroke":"#000000","strokeWidth":1.5},
 "axis":{"domain":false,"grid":false,"tickColor":"#000000","tickWidth":1.5,"labelColor":"#000000","labelFont":"Liberation Sans","labelFontSize":20,"titleFont":"Liberation Sans","titleFontSize":20,"titleFontWeight":"normal","titleColor":"#000000"},
 "legend":{"orient":"none","legendX":266,"legendY":744,"direction":"horizontal","titleOrient":"left","titleAnchor":"middle","titleBaseline":"top","titlePadding":32,"titleFont":"Liberation Sans","titleFontSize":20,"titleFontWeight":"normal","titleColor":"#000000","labelFont":"Liberation Sans","labelFontSize":20,"labelColor":"#000000","labelBaseline":"middle","symbolType":"M-1,-0.22L1,-0.22","symbolSize":3969,"symbolStrokeWidth":1.5,"labelOffset":11,"columnPadding":79}
}
}
